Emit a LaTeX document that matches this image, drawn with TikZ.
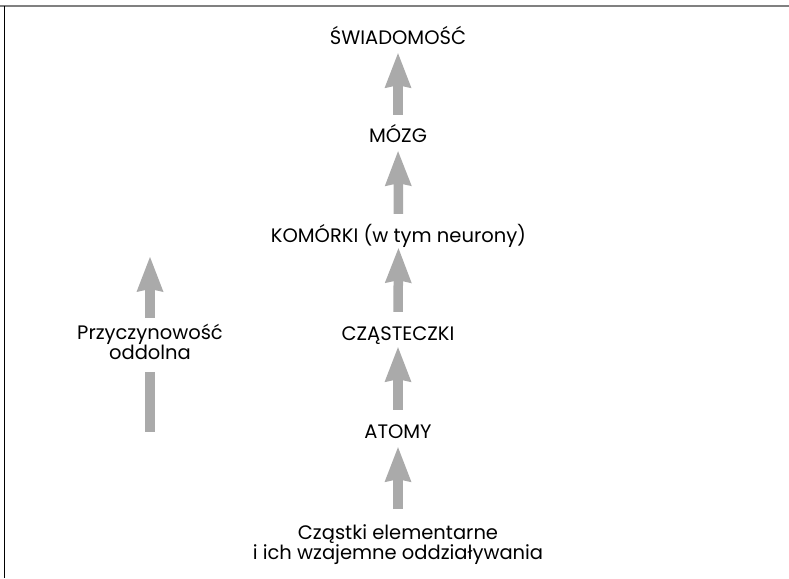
\documentclass[tikz,border=0pt]{standalone}
\usepackage{fontspec}
\setmainfont{Poppins}
\usetikzlibrary{arrows.meta}
\definecolor{arrowgray}{RGB}{170,170,170}
\definecolor{framegray}{RGB}{128,128,128}
\begin{document}
\begin{tikzpicture}[x=1pt,y=-1pt,
  lbl/.style={inner sep=0pt, text height=13pt, text depth=0pt, font=\fontsize{19.5}{20}\selectfont},
  multi/.style={inner sep=0pt, align=center, font=\fontsize{19.5}{20}\selectfont},
  shaft/.style={draw=arrowgray, line width=9.5pt},
  bigarrow/.style={shaft, -{Stealth[width=27pt,length=35pt,inset=3pt,line width=0pt]}}]
\useasboundingbox (0,0) rectangle (789,578);
\draw[framegray, line width=2pt] (0,6.5) -- (789,6.5);
\draw[black, line width=1.5pt] (4.5,6) -- (4.5,578);
% main column
\node[lbl, anchor=base] (swiad) at (398,45) {ŚWIADOMOŚĆ};
\node[lbl, anchor=base] (mozg) at (398,142) {MÓZG};
\node[lbl, anchor=base] (komorki) at (398.5,242) {KOMÓRKI (w tym neurony)};
\node[lbl, anchor=base] (czast) at (398,340) {CZĄSTECZKI};
\node[lbl, anchor=base] (atomy) at (398,438) {ATOMY};
\node[multi, anchor=north] (elem) at (398,524) {Cząstki elementarne\\i ich wzajemne oddziaływania};
\draw[bigarrow, shorten <=14pt, shorten >=8pt] (mozg.north) -- (swiad.south);
\draw[bigarrow, shorten <=15pt, shorten >=9pt] (komorki.north) -- (mozg.south);
\draw[bigarrow, shorten <=15pt, shorten >=6pt] (czast.north) -- (komorki.south);
\draw[bigarrow, shorten <=15pt, shorten >=7pt] (atomy.north) -- (czast.south);
\draw[bigarrow, shorten <=15pt, shorten >=9pt] (elem.north) -- (atomy.south);
% left arrow
\node[multi, anchor=north] (przy) at (150,324) {Przyczynowość\\oddolna};
\coordinate (lbottom) at (150,432);
\coordinate (ltop) at (150,257);
\draw[shaft, shorten <=12pt] (przy.south) -- (lbottom);
\draw[bigarrow, shorten <=6pt] (przy.north) -- (ltop);
\end{tikzpicture}
\end{document}
